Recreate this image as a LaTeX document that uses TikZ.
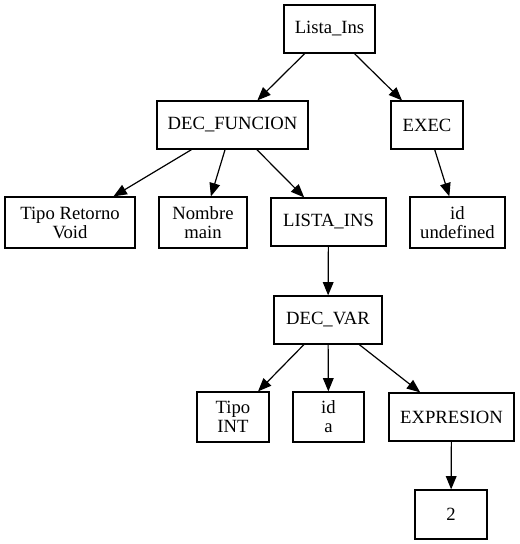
\documentclass[tikz,border=0pt]{standalone}
\usepackage{fontspec}
\setmainfont{Liberation Serif}
\usetikzlibrary{arrows.meta}
\begin{document}
\begin{tikzpicture}[x=0.75pt,y=-0.75pt,
  box/.style={draw,line width=0.9pt,inner sep=0pt,align=center,
    font=\fontsize{14}{14.3}\selectfont},
  edge/.style={line width=0.9pt,-{Triangle[length=10pt,width=8pt]}}]
\useasboundingbox (0,0) rectangle (519,544);
\node[box,minimum width=68.25pt,minimum height=36pt] (L1) at (329.5,29) {Lista\_Ins};
\node[box,minimum width=113.25pt,minimum height=36pt] (DF) at (232.5,125) {DEC\_FUNCION};
\node[box,minimum width=54pt,minimum height=36pt] (EX) at (427,125) {EXEC};
\node[box,minimum width=97.5pt,minimum height=38.25pt] (TR) at (70,222.5) {Tipo Retorno\\Void};
\node[box,minimum width=66pt,minimum height=38.25pt] (NM) at (203,222.5) {Nombre\\main};
\node[box,minimum width=86.25pt,minimum height=36pt] (LI) at (328.5,222) {LISTA\_INS};
\node[box,minimum width=71.25pt,minimum height=38.25pt] (IU) at (457.5,222.5) {id\\undefined};
\node[box,minimum width=81pt,minimum height=36pt] (DV) at (328,320) {DEC\_VAR};
\node[box,minimum width=54pt,minimum height=37.5pt] (TI) at (233,417) {Tipo\\INT};
\node[box,minimum width=53.25pt,minimum height=37.5pt] (IA) at (328.5,417) {id\\a};
\node[box,minimum width=93.75pt,minimum height=36pt] (EP) at (451.5,417) {EXPRESION};
\node[box,minimum width=54pt,minimum height=36.75pt] (N2) at (451,514.5) {2};
\draw[edge] (L1) -- (DF);
\draw[edge] (L1) -- (EX);
\draw[edge] (DF) -- (TR);
\draw[edge] (DF) -- (NM);
\draw[edge] (DF) -- (LI);
\draw[edge] (EX) -- (IU);
\draw[edge] (LI) -- (DV);
\draw[edge] (DV) -- (TI);
\draw[edge] (DV) -- (IA);
\draw[edge] (DV) -- (EP);
\draw[edge] (EP) -- (N2);
\end{tikzpicture}
\end{document}
